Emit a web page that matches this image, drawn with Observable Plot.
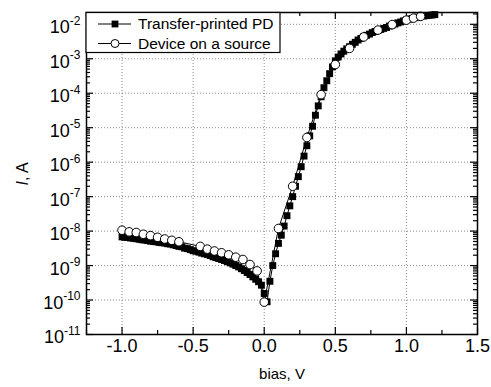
<!DOCTYPE html>
<html><head><meta charset="utf-8">
<script src="https://cdn.jsdelivr.net/npm/d3@7"></script>
<script src="https://cdn.jsdelivr.net/npm/@observablehq/plot@0.6"></script>
<style>html,body{margin:0;padding:0;background:#fff;}</style>
</head><body><div id="chart"></div>
<script>
const biasPD = [-1.00,-0.98,-0.96,-0.94,-0.92,-0.90,-0.88,-0.86,-0.84,-0.82,-0.80,-0.78,-0.76,-0.74,-0.72,-0.70,-0.68,-0.66,-0.64,-0.62,-0.60,-0.58,-0.56,-0.54,-0.52,-0.50,-0.48,-0.46,-0.44,-0.42,-0.40,-0.38,-0.36,-0.34,-0.32,-0.30,-0.28,-0.26,-0.24,-0.22,-0.20,-0.18,-0.16,-0.14,-0.12,-0.10,-0.08,-0.06,-0.04,-0.02,
0.00,0.02,0.04,0.06,0.08,0.10,0.12,0.14,0.16,0.18,0.20,0.22,0.24,0.26,0.28,0.30,0.32,0.34,0.36,0.38,0.40,0.42,0.44,0.46,0.48,0.50,0.52,0.54,0.56,0.58,0.60,0.62,0.64,0.66,0.68,0.70,0.72,0.74,0.76,0.78,0.80,0.82,0.84,0.86,0.88,0.90,0.92,0.94,0.96,0.98,1.00,1.02,1.04,1.06,1.08,1.10,1.12,1.14,1.16,1.18,1.20];
const currentPD = [6.8e-9,6.6e-9,6.5e-9,6.3e-9,6.2e-9,6.0e-9,5.8e-9,5.6e-9,5.5e-9,5.3e-9,5.1e-9,5.0e-9,4.9e-9,4.7e-9,4.6e-9,4.5e-9,4.3e-9,4.2e-9,4.0e-9,3.8e-9,3.6e-9,3.5e-9,3.2e-9,3.1e-9,2.9e-9,2.7e-9,2.6e-9,2.45e-9,2.3e-9,2.2e-9,2.1e-9,1.95e-9,1.8e-9,1.7e-9,1.6e-9,1.5e-9,1.4e-9,1.3e-9,1.2e-9,1.1e-9,1.0e-9,9.1e-10,8.1e-10,7.2e-10,6.3e-10,5.5e-10,4.7e-10,4.0e-10,3.4e-10,2.7e-10,
1.55e-10,8.9e-11,3.5e-10,1.0e-9,2.2e-9,4.4e-9,7.6e-9,1.4e-8,2.8e-8,5.4e-8,1.0e-7,2.0e-7,3.8e-7,7.4e-7,1.5e-6,3.0e-6,5.8e-6,1.1e-5,2.3e-5,4.3e-5,7.9e-5,1.45e-4,2.3e-4,3.7e-4,5.8e-4,8.7e-4,1.12e-3,1.38e-3,1.66e-3,1.95e-3,2.24e-3,2.63e-3,3.0e-3,3.5e-3,3.9e-3,4.4e-3,4.8e-3,5.2e-3,5.75e-3,6.2e-3,6.6e-3,7.1e-3,7.6e-3,8.1e-3,8.9e-3,9.5e-3,1.02e-2,1.10e-2,1.17e-2,1.26e-2,1.35e-2,1.41e-2,1.48e-2,1.55e-2,1.62e-2,1.70e-2,1.74e-2,1.78e-2,1.82e-2,1.86e-2,1.91e-2];
const biasSrc = [-1.0,-0.95,-0.9,-0.85,-0.8,-0.75,-0.7,-0.65,-0.6,-0.45,-0.4,-0.35,-0.3,-0.25,-0.2,-0.15,-0.1,-0.05,0.0,0.1,0.2,0.3,0.4,0.5,0.6,0.7,0.8,0.9,1.0,1.05,1.1];
const currentSrc = [1.06e-8,9.5e-9,9.1e-9,8.1e-9,7.4e-9,6.6e-9,5.9e-9,5.4e-9,4.9e-9,3.6e-9,3.0e-9,2.65e-9,2.35e-9,2.05e-9,1.75e-9,1.5e-9,1.07e-9,7.0e-10,8.7e-11,1.19e-8,2.0e-7,5.2e-6,9.1e-5,6.8e-4,2.0e-3,4.3e-3,6.8e-3,9.8e-3,1.32e-2,1.51e-2,1.70e-2];
const xTicks = [-1.0,-0.5,0.0,0.5,1.0,1.5];
const xMinor = [-1.25,-0.75,-0.25,0.25,0.75,1.25];
const yTicks = [1e-11,1e-10,1e-9,1e-8,1e-7,1e-6,1e-5,1e-4,1e-3,1e-2];
const seriesNames = ["Transfer-printed PD","Device on a source"];
const xLabel = "bias, V";
const yLabel = "I, A";

const W = 491, H = 387, mL = 86, mR = 14, mT = 12, mB = 53;
const pw = W - mL - mR, ph = H - mT - mB;
const xDomain = [-1.25, 1.5], yDomain = [1e-11, 0.022];
const yMinor = d3.scaleLog().domain(yDomain).ticks()
  .filter(v => !yTicks.some(t => Math.abs(Math.log10(v / t)) < 1e-6));

const pd = biasPD.map((x, i) => ({x, y: currentPD[i]}));
const src = biasSrc.map((x, i) => ({x, y: currentSrc[i]}));
const font = "'Liberation Sans', Arial, Helvetica, sans-serif";
const grid = {stroke: "#8a8a8a", strokeDasharray: "1,2", strokeWidth: 1};
const tk = {stroke: "black", strokeWidth: 1.2};

const plot = Plot.plot({
  width: W, height: H, marginLeft: mL, marginRight: mR, marginTop: mT, marginBottom: mB,
  x: {type: "linear", domain: xDomain, axis: null},
  y: {type: "log", domain: yDomain, axis: null},
  style: {fontFamily: font, background: "white", color: "black"},
  marks: [
    Plot.ruleX(xTicks.filter(v => v > xDomain[0] && v < xDomain[1]), {x: d => d, ...grid}),
    Plot.ruleY(yTicks.slice(1), {y: d => d, ...grid}),
    Plot.tickX(xTicks, {x: d => d, insetTop: ph - 7, ...tk}),
    Plot.tickX(xMinor, {x: d => d, insetTop: ph - 4, ...tk}),
    Plot.tickX(xTicks, {x: d => d, insetBottom: ph - 7, ...tk}),
    Plot.tickX(xMinor, {x: d => d, insetBottom: ph - 4, ...tk}),
    Plot.tickY(yTicks, {y: d => d, insetRight: pw - 7, ...tk}),
    Plot.tickY(yMinor, {y: d => d, insetRight: pw - 4, ...tk}),
    Plot.tickY(yTicks, {y: d => d, insetLeft: pw - 7, ...tk}),
    Plot.tickY(yMinor, {y: d => d, insetLeft: pw - 4, ...tk}),
    Plot.line(pd, {x: "x", y: "y", stroke: "black", strokeWidth: 1}),
    Plot.dot(pd, {x: "x", y: "y", symbol: "square", r: 3.9, fill: "black", stroke: null}),
    Plot.line(src, {x: "x", y: "y", stroke: "black", strokeWidth: 1}),
    Plot.dot(src, {x: "x", y: "y", r: 4.3, fill: "white", stroke: "black", strokeWidth: 1}),
    Plot.frame({stroke: "black", strokeWidth: 1.5}),
    Plot.text(xTicks, {x: d => d, frameAnchor: "bottom", dy: 17, text: d => d.toFixed(1), fontSize: 18, fill: "black"}),
    Plot.text(yTicks, {y: d => d, frameAnchor: "left", textAnchor: "end", dx: -6, dy: 3.2,
      text: d => String(Math.round(Math.log10(d))), fontSize: 18, fill: "black"}),
    Plot.text([xLabel], {frameAnchor: "bottom", dy: 44, fontSize: 15, text: d => d, fill: "black"}),
    Plot.text([yLabel], {frameAnchor: "left", rotate: -90, dx: -64, dy: 12, fontSize: 16, text: d => d, fill: "black"})
  ]
});

const svg = d3.select(plot);
svg.selectAll("text").each(function() {
  const s = this.textContent, t = d3.select(this);
  if (/^-\d+$/.test(s)) {
    t.text(null);
    t.append("tspan").text("10");
    t.append("tspan").attr("dy", -8.5).attr("font-size", 12).text(s);
  } else if (s === yLabel) {
    t.text(null);
    t.append("tspan").attr("font-style", "italic").text(s.slice(0, 1));
    t.append("tspan").text(s.slice(1));
  }
});

// legend
const lg = svg.append("g").attr("font-family", font).attr("font-size", 15.5).attr("text-anchor", "start");
lg.append("rect").attr("x", mL).attr("y", mT + 0.5).attr("width", 194).attr("height", 40)
  .attr("fill", "white").attr("stroke", "black").attr("stroke-width", 1.2);
const rows = [24, 43.5];
seriesNames.forEach((name, i) => {
  const y = rows[i];
  lg.append("line").attr("x1", 98).attr("x2", 131).attr("y1", y).attr("y2", y).attr("stroke", "black");
  if (i === 0) lg.append("rect").attr("x", 115 - 3.4).attr("y", y - 3.4).attr("width", 6.8).attr("height", 6.8).attr("fill", "black");
  else lg.append("circle").attr("cx", 115).attr("cy", y).attr("r", 4).attr("fill", "white").attr("stroke", "black");
  lg.append("text").attr("x", 138).attr("y", y + 5.3).attr("fill", "black").text(name);
});

document.getElementById("chart").appendChild(plot);
</script>
</body></html>
